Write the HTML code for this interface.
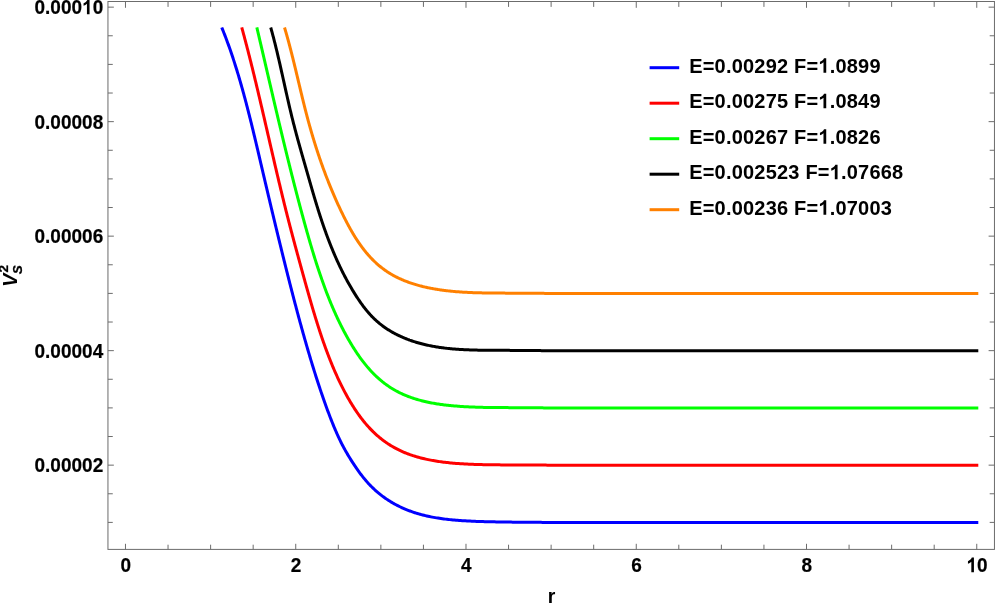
<!DOCTYPE html>
<html><head><meta charset="utf-8"><title>plot</title>
<style>
html,body{margin:0;padding:0;background:#fff;}
svg{display:block;font-family:"Liberation Sans",sans-serif;font-weight:bold;}
</style></head><body>
<svg width="996" height="604" viewBox="0 0 996 604">
<rect width="996" height="604" fill="#fff"/>
<g fill="none" stroke-width="3" stroke-linejoin="round">
<path d="M221.74 27.46 L222.23 28.65 L222.71 29.84 L223.19 31.03 L223.67 32.23 L224.14 33.44 L224.61 34.64 L225.08 35.85 L225.54 37.06 L226.00 38.28 L226.46 39.49 L226.91 40.71 L227.36 41.94 L227.81 43.16 L228.26 44.39 L228.70 45.62 L229.14 46.86 L229.58 48.10 L230.02 49.34 L230.45 50.58 L230.88 51.82 L231.30 53.07 L231.73 54.32 L232.15 55.58 L232.57 56.83 L232.99 58.09 L233.40 59.35 L233.82 60.61 L234.22 61.88 L234.63 63.15 L235.04 64.42 L235.44 65.69 L235.84 66.96 L236.24 68.24 L236.64 69.52 L237.03 70.80 L237.42 72.08 L237.81 73.37 L238.20 74.66 L238.58 75.95 L238.97 77.24 L239.35 78.53 L239.73 79.83 L240.11 81.12 L240.48 82.42 L240.85 83.72 L241.23 85.03 L241.60 86.33 L241.97 87.64 L242.33 88.95 L242.70 90.26 L243.06 91.57 L243.42 92.88 L243.78 94.20 L244.14 95.52 L244.50 96.84 L244.85 98.16 L245.20 99.48 L245.56 100.80 L245.91 102.12 L246.26 103.45 L246.60 104.78 L246.95 106.11 L247.30 107.44 L247.64 108.77 L247.98 110.10 L248.32 111.43 L248.66 112.77 L249.00 114.10 L249.34 115.44 L249.68 116.78 L250.01 118.12 L250.35 119.46 L250.68 120.80 L251.01 122.14 L251.35 123.49 L251.68 124.83 L252.01 126.18 L252.34 127.52 L252.66 128.87 L252.99 130.22 L253.32 131.57 L253.64 132.92 L253.97 134.27 L254.29 135.62 L254.62 136.97 L254.94 138.32 L255.26 139.67 L255.58 141.02 L255.91 142.38 L256.23 143.73 L256.55 145.09 L256.87 146.44 L257.19 147.80 L257.51 149.15 L257.83 150.51 L258.14 151.87 L258.46 153.22 L258.78 154.58 L259.10 155.94 L259.42 157.30 L259.73 158.65 L260.05 160.01 L260.37 161.37 L260.68 162.73 L261.00 164.08 L261.32 165.44 L261.64 166.80 L261.95 168.16 L262.27 169.52 L262.59 170.87 L262.90 172.23 L263.22 173.59 L263.54 174.95 L263.86 176.30 L264.18 177.66 L264.49 179.02 L264.81 180.38 L265.13 181.73 L265.45 183.09 L265.77 184.44 L266.09 185.80 L266.41 187.16 L266.73 188.51 L267.04 189.87 L267.36 191.22 L267.68 192.58 L268.00 193.93 L268.32 195.29 L268.64 196.64 L268.96 198.00 L269.29 199.35 L269.61 200.71 L269.93 202.06 L270.25 203.42 L270.57 204.77 L270.89 206.12 L271.21 207.48 L271.54 208.83 L271.86 210.18 L272.18 211.53 L272.50 212.89 L272.83 214.24 L273.15 215.59 L273.47 216.94 L273.80 218.29 L274.12 219.64 L274.45 221.00 L274.77 222.35 L275.09 223.70 L275.42 225.05 L275.74 226.40 L276.07 227.75 L276.40 229.09 L276.72 230.44 L277.05 231.79 L277.38 233.14 L277.70 234.49 L278.03 235.84 L278.36 237.18 L278.69 238.53 L279.01 239.88 L279.34 241.23 L279.67 242.57 L280.00 243.92 L280.33 245.26 L280.66 246.61 L280.99 247.95 L281.32 249.30 L281.65 250.64 L281.98 251.99 L282.31 253.33 L282.64 254.67 L282.98 256.02 L283.31 257.36 L283.64 258.70 L283.97 260.05 L284.31 261.39 L284.64 262.73 L284.97 264.07 L285.31 265.41 L285.64 266.75 L285.98 268.09 L286.32 269.43 L286.65 270.77 L286.99 272.11 L287.32 273.45 L287.66 274.78 L288.00 276.12 L288.34 277.46 L288.68 278.79 L289.01 280.13 L289.35 281.47 L289.69 282.80 L290.03 284.14 L290.37 285.47 L290.72 286.80 L291.06 288.14 L291.40 289.47 L291.74 290.80 L292.09 292.13 L292.43 293.47 L292.78 294.80 L293.12 296.13 L293.47 297.46 L293.81 298.78 L294.16 300.11 L294.51 301.44 L294.86 302.77 L295.21 304.09 L295.56 305.42 L295.91 306.74 L296.26 308.07 L296.61 309.39 L296.96 310.71 L297.31 312.03 L297.67 313.36 L298.02 314.68 L298.38 316.00 L298.73 317.31 L299.09 318.63 L299.45 319.95 L299.81 321.27 L300.17 322.58 L300.53 323.90 L300.89 325.21 L301.25 326.52 L301.61 327.84 L301.98 329.15 L302.34 330.46 L302.71 331.77 L303.07 333.08 L303.44 334.39 L303.81 335.69 L304.18 337.00 L304.55 338.30 L304.92 339.61 L305.29 340.91 L305.66 342.21 L306.04 343.51 L306.41 344.81 L306.79 346.11 L307.16 347.41 L307.54 348.71 L307.92 350.01 L308.30 351.30 L308.68 352.59 L309.06 353.89 L309.45 355.18 L309.83 356.47 L310.22 357.76 L310.60 359.05 L310.99 360.33 L311.38 361.62 L311.77 362.91 L312.16 364.19 L312.56 365.47 L312.95 366.75 L313.34 368.03 L313.74 369.31 L314.14 370.59 L314.54 371.87 L314.94 373.14 L315.34 374.42 L315.74 375.69 L316.14 376.96 L316.55 378.23 L316.96 379.50 L317.36 380.77 L317.77 382.03 L318.18 383.29 L318.60 384.56 L319.01 385.82 L319.43 387.08 L319.85 388.33 L320.26 389.59 L320.69 390.84 L321.11 392.10 L321.53 393.35 L321.96 394.60 L322.39 395.84 L322.82 397.09 L323.25 398.33 L323.68 399.57 L324.12 400.81 L324.56 402.05 L325.00 403.28 L325.44 404.52 L325.88 405.75 L326.33 406.98 L326.78 408.20 L327.23 409.43 L327.68 410.65 L328.14 411.87 L328.60 413.09 L329.06 414.30 L329.52 415.51 L329.98 416.72 L330.45 417.93 L330.92 419.14 L331.39 420.34 L331.87 421.54 L332.34 422.74 L332.83 423.93 L333.31 425.12 L333.80 426.31 L334.29 427.49 L334.79 428.67 L335.28 429.85 L335.79 431.02 L336.30 432.19 L336.81 433.35 L337.33 434.51 L337.85 435.66 L338.38 436.81 L338.91 437.95 L339.45 439.09 L339.99 440.22 L340.54 441.35 L341.09 442.47 L341.65 443.58 L342.22 444.69 L342.80 445.79 L343.38 446.88 L343.96 447.97 L344.55 449.06 L345.15 450.13 L345.76 451.20 L346.37 452.27 L346.98 453.33 L347.60 454.38 L348.23 455.43 L348.86 456.47 L349.50 457.51 L350.13 458.55 L350.78 459.58 L351.42 460.61 L352.08 461.64 L352.73 462.66 L353.39 463.67 L354.05 464.68 L354.72 465.69 L355.39 466.69 L356.07 467.69 L356.76 468.68 L357.45 469.67 L358.14 470.65 L358.84 471.62 L359.55 472.59 L360.26 473.55 L360.98 474.51 L361.71 475.45 L362.44 476.39 L363.19 477.33 L363.94 478.25 L364.69 479.17 L365.46 480.08 L366.23 480.98 L367.01 481.88 L367.80 482.76 L368.60 483.64 L369.41 484.50 L370.23 485.36 L371.06 486.21 L371.90 487.04 L372.74 487.87 L373.60 488.69 L374.46 489.50 L375.34 490.30 L376.23 491.09 L377.12 491.87 L378.03 492.64 L378.94 493.40 L379.87 494.15 L380.80 494.89 L381.75 495.62 L382.70 496.34 L383.67 497.05 L384.64 497.75 L385.63 498.44 L386.62 499.12 L387.63 499.79 L388.64 500.45 L389.67 501.10 L390.70 501.74 L391.75 502.37 L392.81 502.98 L393.87 503.59 L394.95 504.19 L396.04 504.78 L397.14 505.35 L398.25 505.92 L399.37 506.48 L400.50 507.02 L401.64 507.56 L402.79 508.08 L403.95 508.59 L405.12 509.10 L406.31 509.59 L407.50 510.07 L408.70 510.54 L409.92 511.00 L411.15 511.45 L412.38 511.88 L413.63 512.31 L414.89 512.73 L416.16 513.13 L417.44 513.52 L418.74 513.91 L420.04 514.28 L421.36 514.64 L422.68 514.99 L424.02 515.32 L425.37 515.65 L426.73 515.97 L428.10 516.27 L429.48 516.56 L430.87 516.85 L432.28 517.12 L433.69 517.38 L435.12 517.63 L436.55 517.87 L437.99 518.10 L439.45 518.32 L440.91 518.53 L442.38 518.74 L443.86 518.93 L445.35 519.12 L446.85 519.30 L448.36 519.47 L449.87 519.63 L451.39 519.78 L452.92 519.93 L454.46 520.07 L456.00 520.20 L457.55 520.32 L459.10 520.44 L460.67 520.55 L462.24 520.66 L463.81 520.76 L465.39 520.86 L466.98 520.95 L468.57 521.03 L470.16 521.11 L471.76 521.18 L473.37 521.25 L474.98 521.32 L476.59 521.38 L478.21 521.44 L479.83 521.49 L481.45 521.54 L483.08 521.59 L484.71 521.64 L486.35 521.68 L487.98 521.72 L489.62 521.75 L491.26 521.79 L492.90 521.82 L494.54 521.85 L496.19 521.88 L497.84 521.91 L499.48 521.94 L501.13 521.97 L502.78 522.00 L504.43 522.02 L506.08 522.05 L507.73 522.07 L509.38 522.10 L511.03 522.12 L512.69 522.14 L514.34 522.16 L516.00 522.18 L517.65 522.20 L519.31 522.22 L520.97 522.24 L522.62 522.25 L524.28 522.27 L525.94 522.28 L527.61 522.30 L529.27 522.31 L530.93 522.32 L532.60 522.33 L534.26 522.34 L535.93 522.35 L537.59 522.36 L539.26 522.36 L540.93 522.37 L542.60 522.38 L544.27 522.38 L545.94 522.38 L547.62 522.38 L549.29 522.39 L550.97 522.39 L552.64 522.39 L554.32 522.39 L556.00 522.39 L557.68 522.39 L559.36 522.39 L561.04 522.39 L562.72 522.39 L978.3 522.40" stroke="#0000ff"/>
<path d="M241.75 27.45 L242.08 28.62 L242.40 29.80 L242.72 30.98 L243.04 32.16 L243.36 33.34 L243.68 34.53 L244.00 35.71 L244.32 36.89 L244.63 38.08 L244.95 39.27 L245.26 40.45 L245.58 41.64 L245.89 42.83 L246.20 44.02 L246.51 45.21 L246.82 46.40 L247.13 47.59 L247.44 48.78 L247.75 49.98 L248.06 51.17 L248.36 52.37 L248.67 53.56 L248.98 54.76 L249.28 55.96 L249.58 57.15 L249.89 58.35 L250.19 59.55 L250.49 60.75 L250.79 61.95 L251.09 63.15 L251.39 64.35 L251.69 65.56 L251.99 66.76 L252.29 67.96 L252.58 69.17 L252.88 70.37 L253.18 71.58 L253.47 72.78 L253.77 73.99 L254.06 75.20 L254.35 76.41 L254.65 77.61 L254.94 78.82 L255.23 80.03 L255.52 81.24 L255.82 82.45 L256.11 83.66 L256.40 84.87 L256.69 86.08 L256.98 87.30 L257.27 88.51 L257.55 89.72 L257.84 90.94 L258.13 92.15 L258.42 93.36 L258.70 94.58 L258.99 95.79 L259.28 97.01 L259.56 98.22 L259.85 99.44 L260.13 100.65 L260.42 101.87 L260.70 103.09 L260.99 104.30 L261.27 105.52 L261.56 106.74 L261.84 107.96 L262.12 109.18 L262.41 110.39 L262.69 111.61 L262.97 112.83 L263.26 114.05 L263.54 115.27 L263.82 116.49 L264.10 117.71 L264.38 118.93 L264.67 120.15 L264.95 121.37 L265.23 122.59 L265.51 123.81 L265.79 125.03 L266.07 126.25 L266.35 127.47 L266.63 128.69 L266.92 129.91 L267.20 131.13 L267.48 132.35 L267.76 133.57 L268.04 134.79 L268.32 136.01 L268.60 137.23 L268.88 138.45 L269.16 139.67 L269.44 140.89 L269.72 142.11 L270.01 143.33 L270.29 144.56 L270.57 145.78 L270.85 147.00 L271.13 148.22 L271.41 149.44 L271.69 150.66 L271.97 151.88 L272.26 153.10 L272.54 154.31 L272.82 155.53 L273.10 156.75 L273.39 157.97 L273.67 159.19 L273.95 160.41 L274.23 161.63 L274.52 162.85 L274.80 164.06 L275.09 165.28 L275.37 166.50 L275.65 167.72 L275.94 168.93 L276.22 170.15 L276.51 171.37 L276.79 172.58 L277.08 173.80 L277.37 175.01 L277.65 176.23 L277.94 177.44 L278.23 178.65 L278.52 179.87 L278.80 181.08 L279.09 182.29 L279.38 183.51 L279.67 184.72 L279.96 185.93 L280.25 187.14 L280.54 188.35 L280.83 189.56 L281.12 190.77 L281.42 191.98 L281.71 193.19 L282.00 194.40 L282.30 195.61 L282.59 196.81 L282.88 198.02 L283.18 199.23 L283.48 200.43 L283.77 201.64 L284.07 202.84 L284.37 204.05 L284.66 205.25 L284.96 206.45 L285.26 207.65 L285.56 208.86 L285.86 210.06 L286.17 211.26 L286.47 212.46 L286.77 213.65 L287.07 214.85 L287.38 216.05 L287.68 217.25 L287.99 218.44 L288.30 219.64 L288.60 220.83 L288.91 222.03 L289.22 223.22 L289.53 224.41 L289.84 225.60 L290.15 226.79 L290.46 227.98 L290.77 229.17 L291.08 230.36 L291.40 231.55 L291.71 232.74 L292.03 233.92 L292.34 235.11 L292.66 236.30 L292.97 237.48 L293.29 238.67 L293.61 239.85 L293.92 241.04 L294.24 242.22 L294.56 243.40 L294.88 244.59 L295.20 245.77 L295.52 246.95 L295.84 248.13 L296.16 249.31 L296.48 250.49 L296.80 251.67 L297.12 252.85 L297.44 254.03 L297.76 255.21 L298.09 256.39 L298.41 257.57 L298.73 258.75 L299.05 259.93 L299.38 261.11 L299.70 262.28 L300.02 263.46 L300.35 264.64 L300.67 265.82 L301.00 267.00 L301.32 268.17 L301.64 269.35 L301.97 270.53 L302.29 271.70 L302.62 272.88 L302.94 274.06 L303.27 275.24 L303.59 276.41 L303.92 277.59 L304.24 278.76 L304.57 279.94 L304.89 281.12 L305.22 282.29 L305.54 283.47 L305.87 284.64 L306.20 285.81 L306.53 286.99 L306.86 288.16 L307.19 289.33 L307.52 290.50 L307.85 291.68 L308.18 292.85 L308.51 294.02 L308.84 295.19 L309.17 296.35 L309.51 297.52 L309.84 298.69 L310.18 299.85 L310.51 301.02 L310.85 302.18 L311.19 303.35 L311.53 304.51 L311.87 305.67 L312.21 306.83 L312.55 307.99 L312.89 309.15 L313.24 310.31 L313.58 311.46 L313.93 312.62 L314.28 313.77 L314.63 314.92 L314.98 316.08 L315.33 317.23 L315.68 318.37 L316.03 319.52 L316.39 320.67 L316.75 321.81 L317.11 322.95 L317.47 324.10 L317.83 325.24 L318.19 326.37 L318.55 327.51 L318.92 328.65 L319.29 329.78 L319.66 330.91 L320.03 332.04 L320.40 333.17 L320.78 334.30 L321.15 335.42 L321.53 336.55 L321.91 337.67 L322.29 338.79 L322.68 339.90 L323.06 341.02 L323.45 342.13 L323.84 343.24 L324.24 344.35 L324.63 345.46 L325.03 346.57 L325.42 347.67 L325.83 348.77 L326.23 349.87 L326.63 350.96 L327.04 352.06 L327.45 353.15 L327.86 354.24 L328.28 355.32 L328.70 356.41 L329.11 357.49 L329.54 358.57 L329.96 359.65 L330.39 360.72 L330.82 361.79 L331.25 362.86 L331.69 363.93 L332.12 364.99 L332.56 366.05 L333.01 367.11 L333.45 368.17 L333.90 369.22 L334.35 370.27 L334.81 371.32 L335.27 372.36 L335.73 373.40 L336.19 374.44 L336.66 375.48 L337.12 376.51 L337.60 377.54 L338.07 378.56 L338.55 379.59 L339.03 380.61 L339.52 381.62 L340.01 382.63 L340.50 383.64 L340.99 384.65 L341.49 385.65 L341.99 386.65 L342.50 387.65 L343.01 388.64 L343.52 389.63 L344.03 390.62 L344.55 391.60 L345.07 392.58 L345.60 393.56 L346.13 394.53 L346.66 395.50 L347.20 396.46 L347.74 397.42 L348.29 398.38 L348.83 399.33 L349.39 400.28 L349.94 401.23 L350.50 402.17 L351.07 403.10 L351.64 404.04 L352.21 404.97 L352.78 405.89 L353.37 406.81 L353.95 407.73 L354.54 408.64 L355.14 409.55 L355.74 410.45 L356.34 411.34 L356.95 412.24 L357.56 413.12 L358.18 414.00 L358.81 414.88 L359.44 415.75 L360.08 416.62 L360.72 417.48 L361.36 418.33 L362.02 419.18 L362.68 420.02 L363.34 420.86 L364.01 421.69 L364.69 422.52 L365.37 423.34 L366.06 424.15 L366.75 424.95 L367.46 425.75 L368.16 426.55 L368.88 427.33 L369.60 428.11 L370.33 428.89 L371.07 429.65 L371.81 430.41 L372.56 431.16 L373.31 431.91 L374.08 432.64 L374.85 433.37 L375.63 434.10 L376.42 434.81 L377.21 435.52 L378.01 436.22 L378.82 436.91 L379.64 437.59 L380.47 438.27 L381.30 438.93 L382.14 439.59 L382.99 440.24 L383.85 440.89 L384.72 441.52 L385.60 442.15 L386.48 442.76 L387.38 443.37 L388.28 443.97 L389.19 444.56 L390.11 445.14 L391.04 445.71 L391.98 446.27 L392.93 446.83 L393.89 447.37 L394.85 447.90 L395.83 448.43 L396.82 448.94 L397.81 449.45 L398.81 449.95 L399.83 450.44 L400.85 450.92 L401.88 451.39 L402.92 451.85 L403.97 452.30 L405.03 452.74 L406.10 453.17 L407.18 453.59 L408.27 454.01 L409.37 454.41 L410.48 454.80 L411.59 455.19 L412.72 455.56 L413.85 455.93 L415.00 456.29 L416.15 456.64 L417.31 456.97 L418.49 457.30 L419.67 457.63 L420.86 457.94 L422.05 458.24 L423.26 458.54 L424.48 458.82 L425.70 459.10 L426.93 459.37 L428.17 459.63 L429.42 459.88 L430.68 460.13 L431.94 460.36 L433.21 460.59 L434.50 460.81 L435.78 461.03 L437.08 461.23 L438.38 461.43 L439.70 461.62 L441.01 461.80 L442.34 461.98 L443.67 462.15 L445.01 462.31 L446.36 462.46 L447.71 462.61 L449.07 462.76 L450.43 462.89 L451.80 463.02 L453.18 463.15 L454.56 463.27 L455.95 463.38 L457.35 463.49 L458.75 463.59 L460.15 463.69 L461.56 463.78 L462.97 463.87 L464.39 463.95 L465.82 464.03 L467.25 464.10 L468.68 464.17 L470.11 464.23 L471.56 464.29 L473.00 464.35 L474.45 464.40 L475.90 464.45 L477.36 464.50 L478.81 464.54 L480.28 464.58 L481.74 464.62 L483.21 464.65 L484.68 464.68 L486.15 464.71 L487.63 464.74 L489.11 464.76 L490.59 464.78 L492.07 464.80 L493.55 464.82 L495.04 464.83 L496.53 464.85 L498.01 464.86 L499.50 464.87 L501.00 464.88 L502.49 464.89 L503.98 464.90 L505.48 464.91 L506.97 464.91 L508.47 464.92 L509.96 464.92 L511.46 464.93 L512.96 464.93 L514.45 464.94 L515.95 464.94 L517.45 464.94 L518.95 464.95 L520.44 464.95 L521.94 464.96 L523.44 464.96 L524.94 464.96 L526.43 464.97 L527.93 464.97 L529.42 464.98 L530.92 464.99 L532.41 465.00 L533.90 465.01 L535.40 465.02 L536.89 465.03 L538.38 465.04 L539.86 465.05 L541.35 465.07 L542.83 465.08 L544.32 465.10 L545.80 465.12 L547.28 465.15 L548.75 465.15 L550.23 465.15 L551.70 465.15 L553.17 465.15 L978.3 465.15" stroke="#ff0000"/>
<path d="M256.82 27.38 L257.08 28.47 L257.33 29.56 L257.59 30.66 L257.85 31.75 L258.10 32.84 L258.36 33.93 L258.61 35.03 L258.87 36.12 L259.12 37.21 L259.38 38.31 L259.63 39.40 L259.89 40.50 L260.14 41.59 L260.40 42.68 L260.65 43.78 L260.91 44.87 L261.16 45.96 L261.42 47.06 L261.67 48.15 L261.93 49.25 L262.18 50.34 L262.43 51.44 L262.69 52.53 L262.94 53.62 L263.20 54.72 L263.45 55.81 L263.71 56.91 L263.96 58.00 L264.21 59.10 L264.47 60.19 L264.72 61.29 L264.98 62.38 L265.23 63.47 L265.48 64.57 L265.74 65.66 L265.99 66.76 L266.25 67.85 L266.50 68.95 L266.76 70.04 L267.01 71.14 L267.26 72.23 L267.52 73.32 L267.77 74.42 L268.03 75.51 L268.28 76.61 L268.54 77.70 L268.79 78.80 L269.04 79.89 L269.30 80.98 L269.55 82.08 L269.81 83.17 L270.06 84.27 L270.32 85.36 L270.57 86.45 L270.83 87.55 L271.08 88.64 L271.34 89.74 L271.59 90.83 L271.85 91.92 L272.10 93.02 L272.36 94.11 L272.61 95.20 L272.87 96.30 L273.12 97.39 L273.38 98.48 L273.64 99.57 L273.89 100.67 L274.15 101.76 L274.40 102.85 L274.66 103.94 L274.92 105.04 L275.17 106.13 L275.43 107.22 L275.69 108.31 L275.94 109.40 L276.20 110.49 L276.46 111.59 L276.72 112.68 L276.97 113.77 L277.23 114.86 L277.49 115.95 L277.75 117.04 L278.01 118.13 L278.26 119.22 L278.52 120.31 L278.78 121.40 L279.04 122.49 L279.30 123.58 L279.56 124.67 L279.82 125.76 L280.08 126.85 L280.34 127.94 L280.60 129.02 L280.86 130.11 L281.12 131.20 L281.38 132.29 L281.64 133.38 L281.90 134.46 L282.16 135.55 L282.43 136.64 L282.69 137.73 L282.95 138.81 L283.21 139.90 L283.47 140.98 L283.74 142.07 L284.00 143.16 L284.26 144.24 L284.53 145.33 L284.79 146.41 L285.05 147.50 L285.32 148.58 L285.58 149.66 L285.85 150.75 L286.11 151.83 L286.38 152.91 L286.65 154.00 L286.91 155.08 L287.18 156.16 L287.44 157.24 L287.71 158.33 L287.98 159.41 L288.25 160.49 L288.51 161.57 L288.78 162.65 L289.05 163.73 L289.32 164.81 L289.59 165.89 L289.86 166.97 L290.13 168.05 L290.40 169.13 L290.67 170.20 L290.94 171.28 L291.21 172.36 L291.48 173.44 L291.75 174.51 L292.02 175.59 L292.30 176.67 L292.57 177.74 L292.84 178.82 L293.12 179.89 L293.39 180.97 L293.66 182.04 L293.94 183.12 L294.21 184.19 L294.49 185.26 L294.77 186.34 L295.04 187.41 L295.32 188.48 L295.60 189.55 L295.87 190.62 L296.15 191.69 L296.43 192.76 L296.71 193.83 L296.99 194.90 L297.27 195.97 L297.55 197.04 L297.83 198.11 L298.11 199.18 L298.39 200.25 L298.67 201.31 L298.95 202.38 L299.23 203.45 L299.52 204.51 L299.80 205.58 L300.08 206.64 L300.37 207.71 L300.65 208.77 L300.94 209.83 L301.22 210.90 L301.51 211.96 L301.80 213.02 L302.08 214.08 L302.37 215.14 L302.66 216.20 L302.95 217.26 L303.24 218.32 L303.53 219.38 L303.82 220.44 L304.11 221.50 L304.40 222.56 L304.69 223.62 L304.98 224.67 L305.27 225.73 L305.57 226.78 L305.86 227.84 L306.16 228.89 L306.45 229.95 L306.75 231.00 L307.04 232.05 L307.34 233.10 L307.64 234.15 L307.94 235.20 L308.24 236.25 L308.54 237.30 L308.84 238.35 L309.14 239.39 L309.44 240.44 L309.75 241.48 L310.05 242.53 L310.36 243.57 L310.66 244.61 L310.97 245.65 L311.28 246.69 L311.59 247.73 L311.90 248.77 L312.21 249.81 L312.52 250.84 L312.84 251.88 L313.15 252.91 L313.47 253.95 L313.78 254.98 L314.10 256.01 L314.42 257.04 L314.74 258.07 L315.06 259.09 L315.39 260.12 L315.71 261.14 L316.04 262.17 L316.36 263.19 L316.69 264.21 L317.02 265.23 L317.35 266.25 L317.68 267.27 L318.01 268.28 L318.35 269.30 L318.68 270.31 L319.02 271.32 L319.36 272.33 L319.70 273.34 L320.04 274.34 L320.39 275.35 L320.73 276.35 L321.08 277.36 L321.43 278.36 L321.77 279.36 L322.13 280.35 L322.48 281.35 L322.83 282.34 L323.19 283.34 L323.55 284.33 L323.91 285.32 L324.27 286.30 L324.63 287.29 L324.99 288.27 L325.36 289.26 L325.73 290.24 L326.10 291.22 L326.47 292.19 L326.84 293.17 L327.22 294.14 L327.60 295.11 L327.97 296.08 L328.36 297.05 L328.74 298.02 L329.12 298.98 L329.51 299.94 L329.90 300.90 L330.29 301.86 L330.68 302.81 L331.08 303.77 L331.48 304.72 L331.88 305.67 L332.28 306.62 L332.68 307.56 L333.09 308.50 L333.49 309.44 L333.90 310.38 L334.32 311.32 L334.73 312.25 L335.15 313.19 L335.57 314.12 L335.99 315.04 L336.41 315.97 L336.84 316.89 L337.26 317.81 L337.70 318.73 L338.13 319.65 L338.56 320.56 L339.00 321.47 L339.44 322.38 L339.88 323.28 L340.33 324.19 L340.78 325.09 L341.23 325.99 L341.68 326.88 L342.13 327.78 L342.59 328.67 L343.05 329.56 L343.52 330.44 L343.98 331.32 L344.45 332.20 L344.92 333.08 L345.39 333.96 L345.87 334.83 L346.35 335.70 L346.83 336.57 L347.32 337.43 L347.80 338.29 L348.29 339.15 L348.79 340.01 L349.28 340.86 L349.78 341.71 L350.28 342.56 L350.79 343.40 L351.29 344.24 L351.80 345.08 L352.32 345.92 L352.83 346.75 L353.35 347.58 L353.87 348.40 L354.40 349.23 L354.93 350.05 L355.46 350.87 L355.99 351.68 L356.53 352.49 L357.07 353.30 L357.62 354.10 L358.17 354.90 L358.72 355.69 L359.28 356.49 L359.84 357.27 L360.40 358.06 L360.97 358.84 L361.55 359.61 L362.12 360.38 L362.70 361.15 L363.29 361.92 L363.88 362.67 L364.47 363.43 L365.07 364.18 L365.68 364.92 L366.29 365.66 L366.90 366.40 L367.52 367.13 L368.14 367.85 L368.77 368.57 L369.40 369.29 L370.04 370.00 L370.69 370.70 L371.34 371.40 L371.99 372.10 L372.65 372.78 L373.32 373.47 L373.99 374.14 L374.66 374.82 L375.35 375.48 L376.04 376.14 L376.73 376.79 L377.43 377.44 L378.14 378.08 L378.85 378.72 L379.57 379.35 L380.30 379.97 L381.03 380.59 L381.77 381.20 L382.52 381.80 L383.27 382.40 L384.03 382.99 L384.79 383.57 L385.57 384.14 L386.35 384.71 L387.13 385.28 L387.93 385.83 L388.73 386.38 L389.54 386.92 L390.35 387.45 L391.17 387.98 L392.01 388.49 L392.84 389.00 L393.69 389.51 L394.54 390.00 L395.41 390.49 L396.27 390.97 L397.15 391.44 L398.04 391.90 L398.93 392.36 L399.83 392.80 L400.74 393.24 L401.66 393.67 L402.59 394.10 L403.52 394.51 L404.46 394.92 L405.41 395.32 L406.36 395.71 L407.33 396.10 L408.30 396.48 L409.28 396.84 L410.27 397.21 L411.26 397.56 L412.26 397.91 L413.27 398.25 L414.29 398.58 L415.31 398.90 L416.34 399.22 L417.38 399.53 L418.43 399.83 L419.48 400.13 L420.54 400.42 L421.61 400.70 L422.68 400.97 L423.77 401.24 L424.86 401.50 L425.95 401.75 L427.05 402.00 L428.16 402.24 L429.28 402.47 L430.40 402.69 L431.53 402.91 L432.67 403.12 L433.81 403.33 L434.96 403.53 L436.12 403.72 L437.28 403.91 L438.45 404.09 L439.63 404.26 L440.81 404.43 L441.99 404.59 L443.18 404.75 L444.38 404.90 L445.59 405.04 L446.79 405.18 L448.01 405.32 L449.23 405.45 L450.45 405.57 L451.68 405.69 L452.91 405.81 L454.15 405.92 L455.40 406.02 L456.64 406.12 L457.90 406.22 L459.15 406.31 L460.41 406.40 L461.68 406.48 L462.95 406.56 L464.22 406.64 L465.50 406.71 L466.78 406.78 L468.06 406.84 L469.35 406.90 L470.64 406.96 L471.93 407.02 L473.23 407.07 L474.53 407.12 L475.84 407.16 L477.14 407.20 L478.45 407.24 L479.76 407.28 L481.08 407.31 L482.39 407.35 L483.71 407.38 L485.03 407.40 L486.36 407.43 L487.68 407.45 L489.01 407.47 L490.34 407.49 L491.67 407.51 L493.00 407.53 L494.34 407.54 L495.67 407.55 L497.01 407.56 L498.35 407.58 L499.69 407.58 L501.03 407.59 L502.37 407.60 L503.71 407.61 L505.05 407.61 L506.40 407.62 L507.74 407.62 L509.08 407.63 L510.43 407.63 L511.77 407.64 L513.12 407.64 L514.46 407.64 L515.81 407.65 L517.15 407.65 L518.50 407.65 L519.84 407.66 L521.19 407.66 L522.53 407.67 L523.87 407.67 L525.22 407.68 L526.56 407.69 L527.90 407.69 L529.24 407.70 L530.58 407.71 L531.92 407.72 L533.25 407.74 L534.59 407.75 L535.92 407.76 L537.25 407.78 L538.58 407.80 L539.91 407.82 L541.24 407.84 L542.56 407.87 L543.89 407.89 L545.21 407.90 L546.53 407.90 L547.84 407.90 L549.16 407.90 L978.3 407.90" stroke="#00ff00"/>
<path d="M270.72 27.48 L270.98 28.43 L271.25 29.37 L271.51 30.31 L271.77 31.26 L272.03 32.21 L272.28 33.16 L272.54 34.11 L272.80 35.06 L273.05 36.02 L273.30 36.97 L273.55 37.93 L273.80 38.89 L274.05 39.85 L274.29 40.81 L274.54 41.77 L274.78 42.73 L275.03 43.70 L275.27 44.66 L275.51 45.63 L275.75 46.60 L275.98 47.57 L276.22 48.54 L276.46 49.51 L276.69 50.48 L276.93 51.45 L277.16 52.43 L277.39 53.40 L277.62 54.38 L277.85 55.36 L278.08 56.33 L278.31 57.31 L278.54 58.29 L278.77 59.27 L279.00 60.25 L279.22 61.23 L279.45 62.21 L279.67 63.20 L279.90 64.18 L280.12 65.16 L280.34 66.15 L280.57 67.13 L280.79 68.12 L281.01 69.10 L281.23 70.09 L281.45 71.07 L281.68 72.06 L281.90 73.05 L282.12 74.03 L282.34 75.02 L282.56 76.01 L282.78 76.99 L283.00 77.98 L283.22 78.97 L283.43 79.96 L283.65 80.95 L283.87 81.93 L284.09 82.92 L284.31 83.91 L284.53 84.90 L284.75 85.89 L284.97 86.87 L285.19 87.86 L285.41 88.85 L285.63 89.84 L285.85 90.82 L286.07 91.81 L286.29 92.80 L286.51 93.78 L286.73 94.77 L286.96 95.75 L287.18 96.74 L287.40 97.72 L287.62 98.71 L287.85 99.69 L288.07 100.67 L288.30 101.66 L288.52 102.64 L288.75 103.62 L288.98 104.60 L289.20 105.58 L289.43 106.56 L289.66 107.54 L289.89 108.51 L290.12 109.49 L290.35 110.47 L290.58 111.44 L290.82 112.42 L291.05 113.39 L291.29 114.36 L291.52 115.33 L291.76 116.30 L292.00 117.27 L292.24 118.24 L292.48 119.21 L292.72 120.17 L292.96 121.14 L293.20 122.10 L293.45 123.06 L293.69 124.03 L293.94 124.99 L294.19 125.95 L294.44 126.90 L294.69 127.86 L294.94 128.82 L295.19 129.77 L295.44 130.73 L295.70 131.68 L295.95 132.63 L296.21 133.59 L296.46 134.54 L296.72 135.49 L296.98 136.44 L297.23 137.39 L297.49 138.34 L297.75 139.28 L298.01 140.23 L298.27 141.18 L298.54 142.12 L298.80 143.07 L299.06 144.01 L299.32 144.96 L299.59 145.90 L299.85 146.84 L300.12 147.78 L300.38 148.73 L300.65 149.67 L300.91 150.61 L301.18 151.55 L301.45 152.49 L301.71 153.43 L301.98 154.37 L302.25 155.31 L302.52 156.25 L302.79 157.19 L303.05 158.13 L303.32 159.07 L303.59 160.00 L303.86 160.94 L304.13 161.88 L304.40 162.82 L304.67 163.76 L304.94 164.70 L305.21 165.63 L305.48 166.57 L305.75 167.51 L306.01 168.45 L306.28 169.39 L306.55 170.32 L306.82 171.26 L307.09 172.20 L307.36 173.14 L307.63 174.08 L307.90 175.02 L308.16 175.96 L308.43 176.89 L308.70 177.83 L308.97 178.77 L309.24 179.71 L309.51 180.65 L309.78 181.59 L310.05 182.52 L310.32 183.46 L310.59 184.40 L310.86 185.33 L311.13 186.27 L311.40 187.21 L311.67 188.14 L311.94 189.08 L312.21 190.01 L312.49 190.95 L312.76 191.88 L313.03 192.82 L313.31 193.75 L313.58 194.68 L313.86 195.62 L314.13 196.55 L314.41 197.48 L314.69 198.41 L314.96 199.34 L315.24 200.27 L315.52 201.19 L315.80 202.12 L316.08 203.05 L316.37 203.97 L316.65 204.90 L316.93 205.82 L317.22 206.74 L317.50 207.67 L317.79 208.59 L318.07 209.51 L318.36 210.43 L318.65 211.34 L318.94 212.26 L319.23 213.18 L319.53 214.09 L319.82 215.01 L320.11 215.92 L320.41 216.83 L320.71 217.74 L321.01 218.65 L321.31 219.56 L321.61 220.46 L321.91 221.37 L322.21 222.27 L322.52 223.17 L322.83 224.07 L323.13 224.97 L323.44 225.87 L323.75 226.77 L324.07 227.66 L324.38 228.55 L324.70 229.45 L325.01 230.34 L325.33 231.23 L325.65 232.11 L325.97 233.00 L326.29 233.89 L326.62 234.77 L326.94 235.65 L327.27 236.53 L327.60 237.41 L327.93 238.29 L328.26 239.16 L328.59 240.04 L328.93 240.91 L329.26 241.78 L329.60 242.65 L329.94 243.52 L330.28 244.38 L330.63 245.25 L330.97 246.11 L331.32 246.97 L331.67 247.83 L332.02 248.69 L332.37 249.54 L332.72 250.40 L333.07 251.25 L333.43 252.10 L333.79 252.95 L334.15 253.80 L334.51 254.64 L334.88 255.48 L335.24 256.33 L335.61 257.17 L335.98 258.00 L336.35 258.84 L336.72 259.67 L337.10 260.51 L337.47 261.34 L337.85 262.17 L338.23 262.99 L338.61 263.82 L339.00 264.64 L339.39 265.46 L339.77 266.28 L340.16 267.10 L340.56 267.91 L340.95 268.73 L341.35 269.54 L341.74 270.35 L342.14 271.15 L342.55 271.96 L342.95 272.76 L343.36 273.56 L343.77 274.36 L344.18 275.16 L344.59 275.95 L345.00 276.75 L345.42 277.54 L345.84 278.32 L346.26 279.11 L346.68 279.89 L347.11 280.68 L347.54 281.46 L347.97 282.23 L348.40 283.01 L348.83 283.78 L349.27 284.55 L349.71 285.32 L350.15 286.09 L350.59 286.85 L351.04 287.61 L351.48 288.37 L351.94 289.13 L352.39 289.89 L352.84 290.64 L353.30 291.39 L353.76 292.14 L354.22 292.88 L354.68 293.63 L355.15 294.37 L355.62 295.10 L356.09 295.84 L356.56 296.57 L357.04 297.31 L357.52 298.03 L358.00 298.76 L358.48 299.48 L358.97 300.20 L359.46 300.92 L359.95 301.64 L360.45 302.35 L360.95 303.05 L361.45 303.76 L361.96 304.46 L362.47 305.16 L362.98 305.85 L363.50 306.54 L364.02 307.23 L364.55 307.91 L365.08 308.59 L365.61 309.26 L366.15 309.93 L366.69 310.59 L367.24 311.25 L367.79 311.91 L368.35 312.56 L368.91 313.20 L369.48 313.84 L370.05 314.48 L370.63 315.10 L371.21 315.73 L371.80 316.35 L372.40 316.96 L373.00 317.57 L373.60 318.17 L374.22 318.76 L374.83 319.35 L375.46 319.94 L376.09 320.51 L376.72 321.08 L377.37 321.65 L378.02 322.21 L378.67 322.76 L379.33 323.31 L380.00 323.85 L380.67 324.38 L381.35 324.91 L382.03 325.43 L382.72 325.95 L383.42 326.46 L384.12 326.97 L384.83 327.47 L385.54 327.96 L386.26 328.45 L386.99 328.93 L387.72 329.41 L388.46 329.88 L389.20 330.34 L389.95 330.80 L390.70 331.25 L391.46 331.70 L392.23 332.14 L393.00 332.57 L393.78 333.00 L394.56 333.43 L395.35 333.84 L396.15 334.26 L396.95 334.66 L397.75 335.06 L398.57 335.46 L399.38 335.85 L400.21 336.23 L401.04 336.61 L401.87 336.98 L402.71 337.35 L403.56 337.71 L404.41 338.07 L405.27 338.42 L406.13 338.76 L407.00 339.10 L407.87 339.44 L408.75 339.76 L409.63 340.09 L410.52 340.40 L411.42 340.71 L412.32 341.02 L413.23 341.32 L414.14 341.62 L415.06 341.91 L415.98 342.19 L416.91 342.47 L417.84 342.74 L418.78 343.01 L419.73 343.27 L420.68 343.53 L421.63 343.78 L422.59 344.03 L423.56 344.27 L424.53 344.51 L425.51 344.74 L426.49 344.96 L427.48 345.18 L428.47 345.40 L429.47 345.60 L430.47 345.81 L431.48 346.01 L432.49 346.20 L433.51 346.39 L434.54 346.57 L435.57 346.75 L436.60 346.92 L437.64 347.09 L438.68 347.25 L439.73 347.41 L440.79 347.56 L441.85 347.71 L442.91 347.85 L443.99 347.99 L445.06 348.12 L446.14 348.25 L447.23 348.37 L448.32 348.49 L449.41 348.60 L450.51 348.71 L451.62 348.81 L452.73 348.91 L453.84 349.00 L454.96 349.09 L456.08 349.17 L457.21 349.26 L458.34 349.33 L459.47 349.41 L460.61 349.48 L461.75 349.54 L462.90 349.60 L464.04 349.66 L465.20 349.72 L466.35 349.77 L467.51 349.82 L468.67 349.86 L469.83 349.91 L471.00 349.95 L472.17 349.99 L473.34 350.02 L474.52 350.05 L475.70 350.08 L476.88 350.11 L478.06 350.14 L479.24 350.16 L480.43 350.18 L481.61 350.20 L482.80 350.22 L484.00 350.23 L485.19 350.25 L486.38 350.26 L487.58 350.27 L488.77 350.28 L489.97 350.29 L491.17 350.30 L492.37 350.31 L493.57 350.32 L494.77 350.32 L495.98 350.33 L497.18 350.33 L498.38 350.34 L499.58 350.34 L500.79 350.34 L501.99 350.35 L503.19 350.35 L504.40 350.36 L505.60 350.36 L506.80 350.36 L508.01 350.37 L509.21 350.37 L510.41 350.38 L511.61 350.38 L512.82 350.39 L514.02 350.39 L515.22 350.40 L516.42 350.40 L517.62 350.41 L518.82 350.42 L520.03 350.42 L521.23 350.43 L522.43 350.44 L523.62 350.44 L524.82 350.45 L526.02 350.46 L527.22 350.47 L528.42 350.48 L529.61 350.49 L530.81 350.50 L532.01 350.51 L533.20 350.53 L534.40 350.54 L535.59 350.55 L536.78 350.57 L537.98 350.58 L539.17 350.60 L540.36 350.61 L541.55 350.63 L542.74 350.65 L543.93 350.65 L545.11 350.65 L546.30 350.65 L547.49 350.65 L548.67 350.65 L549.86 350.65 L978.3 350.65" stroke="#000000"/>
<path d="M284.51 27.49 L284.76 28.31 L285.00 29.13 L285.25 29.95 L285.49 30.78 L285.73 31.61 L285.97 32.43 L286.21 33.26 L286.45 34.09 L286.68 34.92 L286.92 35.76 L287.15 36.59 L287.39 37.42 L287.62 38.26 L287.85 39.10 L288.08 39.93 L288.31 40.77 L288.53 41.61 L288.76 42.45 L288.99 43.29 L289.21 44.14 L289.44 44.98 L289.66 45.82 L289.88 46.67 L290.10 47.52 L290.32 48.36 L290.54 49.21 L290.76 50.06 L290.98 50.91 L291.20 51.76 L291.42 52.61 L291.63 53.46 L291.85 54.31 L292.06 55.16 L292.28 56.02 L292.49 56.87 L292.71 57.72 L292.92 58.58 L293.13 59.43 L293.34 60.29 L293.55 61.15 L293.76 62.00 L293.97 62.86 L294.18 63.72 L294.39 64.58 L294.60 65.43 L294.81 66.29 L295.02 67.15 L295.23 68.01 L295.43 68.87 L295.64 69.73 L295.85 70.59 L296.06 71.45 L296.26 72.31 L296.47 73.18 L296.67 74.04 L296.88 74.90 L297.09 75.76 L297.29 76.62 L297.50 77.48 L297.70 78.35 L297.91 79.21 L298.11 80.07 L298.32 80.93 L298.52 81.80 L298.73 82.66 L298.93 83.52 L299.14 84.38 L299.35 85.24 L299.55 86.11 L299.76 86.97 L299.96 87.83 L300.17 88.69 L300.38 89.55 L300.58 90.41 L300.79 91.27 L300.99 92.13 L301.20 92.99 L301.41 93.85 L301.62 94.71 L301.83 95.57 L302.03 96.43 L302.24 97.29 L302.45 98.15 L302.66 99.01 L302.87 99.87 L303.08 100.72 L303.29 101.58 L303.50 102.43 L303.72 103.29 L303.93 104.15 L304.14 105.00 L304.35 105.85 L304.57 106.71 L304.78 107.56 L305.00 108.41 L305.22 109.26 L305.43 110.11 L305.65 110.96 L305.87 111.81 L306.09 112.66 L306.31 113.51 L306.53 114.36 L306.75 115.20 L306.97 116.05 L307.19 116.89 L307.42 117.74 L307.64 118.58 L307.87 119.42 L308.09 120.26 L308.32 121.10 L308.55 121.94 L308.78 122.78 L309.01 123.62 L309.24 124.45 L309.47 125.29 L309.71 126.12 L309.94 126.96 L310.18 127.79 L310.41 128.62 L310.65 129.45 L310.89 130.28 L311.12 131.11 L311.36 131.94 L311.61 132.76 L311.85 133.59 L312.09 134.41 L312.33 135.24 L312.58 136.06 L312.82 136.88 L313.07 137.70 L313.32 138.52 L313.57 139.34 L313.82 140.16 L314.07 140.98 L314.32 141.79 L314.57 142.61 L314.82 143.42 L315.08 144.24 L315.33 145.05 L315.59 145.86 L315.85 146.67 L316.10 147.48 L316.36 148.29 L316.62 149.09 L316.89 149.90 L317.15 150.71 L317.41 151.51 L317.67 152.31 L317.94 153.12 L318.21 153.92 L318.47 154.72 L318.74 155.52 L319.01 156.31 L319.28 157.11 L319.55 157.91 L319.82 158.70 L320.10 159.50 L320.37 160.29 L320.65 161.08 L320.92 161.88 L321.20 162.67 L321.48 163.45 L321.76 164.24 L322.04 165.03 L322.32 165.82 L322.60 166.60 L322.88 167.39 L323.17 168.17 L323.45 168.95 L323.74 169.73 L324.03 170.51 L324.32 171.29 L324.61 172.07 L324.90 172.85 L325.19 173.62 L325.48 174.40 L325.77 175.17 L326.07 175.94 L326.36 176.72 L326.66 177.49 L326.96 178.26 L327.26 179.02 L327.56 179.79 L327.86 180.56 L328.16 181.32 L328.46 182.09 L328.77 182.85 L329.07 183.61 L329.38 184.38 L329.69 185.14 L329.99 185.90 L330.30 186.65 L330.61 187.41 L330.93 188.17 L331.24 188.92 L331.55 189.68 L331.87 190.43 L332.18 191.18 L332.50 191.93 L332.82 192.68 L333.14 193.43 L333.46 194.18 L333.78 194.92 L334.10 195.67 L334.42 196.41 L334.75 197.16 L335.07 197.90 L335.40 198.64 L335.72 199.38 L336.05 200.12 L336.38 200.86 L336.71 201.59 L337.05 202.33 L337.38 203.06 L337.71 203.80 L338.05 204.53 L338.38 205.26 L338.72 205.99 L339.06 206.72 L339.40 207.45 L339.74 208.18 L340.08 208.90 L340.42 209.63 L340.77 210.35 L341.11 211.07 L341.46 211.79 L341.81 212.51 L342.15 213.23 L342.50 213.95 L342.85 214.67 L343.21 215.38 L343.56 216.10 L343.91 216.81 L344.27 217.52 L344.63 218.23 L344.98 218.94 L345.34 219.65 L345.71 220.36 L346.07 221.06 L346.43 221.76 L346.80 222.47 L347.17 223.17 L347.54 223.86 L347.91 224.56 L348.28 225.25 L348.65 225.95 L349.03 226.64 L349.41 227.33 L349.79 228.02 L350.17 228.70 L350.55 229.38 L350.94 230.07 L351.33 230.75 L351.72 231.42 L352.11 232.10 L352.51 232.77 L352.90 233.44 L353.30 234.11 L353.70 234.78 L354.11 235.44 L354.51 236.10 L354.92 236.76 L355.33 237.42 L355.75 238.07 L356.16 238.72 L356.58 239.37 L357.00 240.02 L357.42 240.66 L357.85 241.30 L358.28 241.94 L358.71 242.58 L359.15 243.21 L359.58 243.84 L360.02 244.47 L360.47 245.09 L360.91 245.71 L361.36 246.33 L361.82 246.95 L362.27 247.56 L362.73 248.17 L363.19 248.77 L363.66 249.37 L364.12 249.97 L364.60 250.57 L365.07 251.16 L365.55 251.75 L366.03 252.34 L366.51 252.92 L367.00 253.50 L367.49 254.08 L367.99 254.65 L368.49 255.22 L368.99 255.78 L369.50 256.34 L370.01 256.90 L370.52 257.45 L371.04 258.00 L371.56 258.55 L372.08 259.09 L372.61 259.63 L373.15 260.17 L373.68 260.70 L374.22 261.22 L374.77 261.75 L375.32 262.26 L375.87 262.78 L376.43 263.29 L376.99 263.80 L377.56 264.30 L378.13 264.79 L378.70 265.29 L379.28 265.78 L379.86 266.26 L380.45 266.74 L381.04 267.22 L381.64 267.69 L382.24 268.15 L382.85 268.61 L383.46 269.07 L384.07 269.52 L384.69 269.97 L385.32 270.41 L385.95 270.85 L386.58 271.29 L387.22 271.71 L387.86 272.14 L388.51 272.56 L389.16 272.97 L389.82 273.38 L390.49 273.78 L391.16 274.18 L391.83 274.57 L392.51 274.96 L393.19 275.35 L393.88 275.73 L394.58 276.10 L395.28 276.47 L395.98 276.83 L396.69 277.19 L397.40 277.54 L398.12 277.89 L398.84 278.24 L399.57 278.58 L400.30 278.91 L401.04 279.24 L401.78 279.57 L402.53 279.89 L403.28 280.21 L404.03 280.52 L404.79 280.83 L405.56 281.13 L406.33 281.43 L407.10 281.72 L407.88 282.01 L408.66 282.29 L409.45 282.57 L410.24 282.85 L411.04 283.12 L411.84 283.39 L412.64 283.65 L413.45 283.91 L414.27 284.16 L415.08 284.41 L415.91 284.66 L416.73 284.90 L417.56 285.14 L418.40 285.37 L419.23 285.60 L420.08 285.83 L420.92 286.05 L421.78 286.26 L422.63 286.48 L423.49 286.68 L424.35 286.89 L425.22 287.09 L426.09 287.29 L426.96 287.48 L427.84 287.67 L428.73 287.85 L429.61 288.03 L430.50 288.21 L431.40 288.38 L432.29 288.55 L433.20 288.72 L434.10 288.88 L435.01 289.04 L435.92 289.19 L436.84 289.35 L437.76 289.49 L438.68 289.64 L439.61 289.78 L440.54 289.91 L441.48 290.05 L442.41 290.18 L443.35 290.30 L444.30 290.43 L445.25 290.55 L446.20 290.66 L447.15 290.77 L448.11 290.88 L449.07 290.99 L450.04 291.09 L451.01 291.19 L451.98 291.29 L452.95 291.38 L453.93 291.47 L454.91 291.55 L455.90 291.64 L456.88 291.72 L457.88 291.79 L458.87 291.87 L459.87 291.94 L460.86 292.01 L461.87 292.07 L462.87 292.14 L463.88 292.20 L464.89 292.25 L465.90 292.31 L466.92 292.36 L467.93 292.41 L468.95 292.46 L469.98 292.50 L471.00 292.55 L472.03 292.59 L473.06 292.63 L474.09 292.66 L475.12 292.70 L476.16 292.73 L477.19 292.76 L478.23 292.79 L479.27 292.82 L480.31 292.84 L481.35 292.87 L482.40 292.89 L483.45 292.91 L484.49 292.93 L485.54 292.95 L486.59 292.97 L487.64 292.98 L488.70 293.00 L489.75 293.01 L490.81 293.02 L491.86 293.04 L492.92 293.05 L493.98 293.06 L495.03 293.07 L496.09 293.07 L497.15 293.08 L498.21 293.09 L499.27 293.10 L500.33 293.10 L501.40 293.11 L502.46 293.11 L503.52 293.12 L504.58 293.12 L505.64 293.13 L506.71 293.13 L507.77 293.14 L508.83 293.14 L509.90 293.15 L510.96 293.15 L512.02 293.16 L513.08 293.16 L514.15 293.17 L515.21 293.17 L516.27 293.17 L517.34 293.18 L518.40 293.18 L519.46 293.19 L520.53 293.19 L521.59 293.20 L522.65 293.20 L523.71 293.21 L524.77 293.21 L525.84 293.22 L526.90 293.23 L527.96 293.23 L529.02 293.24 L530.08 293.25 L531.14 293.25 L532.20 293.26 L533.26 293.27 L534.32 293.28 L535.38 293.28 L536.44 293.29 L537.49 293.30 L538.55 293.31 L539.61 293.32 L540.67 293.34 L541.72 293.35 L542.78 293.36 L543.83 293.37 L544.88 293.39 L545.94 293.40 L546.99 293.40 L548.04 293.40 L549.09 293.40 L550.14 293.40 L551.19 293.40 L978.3 293.40" stroke="#ff8000"/>
</g>
<rect x="107.95" y="1.5" width="886.5" height="547.9" fill="none" stroke="#6c6c6c" stroke-width="1"/>
<path d="M125.48 549.4 V543.8 M125.48 1.5 V7.8 M168.04 549.4 V544.7 M168.04 1.5 V6.9 M210.61 549.4 V544.7 M210.61 1.5 V6.9 M253.17 549.4 V544.7 M253.17 1.5 V6.9 M295.74 549.4 V543.8 M295.74 1.5 V7.8 M338.30 549.4 V544.7 M338.30 1.5 V6.9 M380.86 549.4 V544.7 M380.86 1.5 V6.9 M423.43 549.4 V544.7 M423.43 1.5 V6.9 M465.99 549.4 V543.8 M465.99 1.5 V7.8 M508.56 549.4 V544.7 M508.56 1.5 V6.9 M551.12 549.4 V544.7 M551.12 1.5 V6.9 M593.68 549.4 V544.7 M593.68 1.5 V6.9 M636.25 549.4 V543.8 M636.25 1.5 V7.8 M678.81 549.4 V544.7 M678.81 1.5 V6.9 M721.38 549.4 V544.7 M721.38 1.5 V6.9 M763.94 549.4 V544.7 M763.94 1.5 V6.9 M806.50 549.4 V543.8 M806.50 1.5 V7.8 M849.07 549.4 V544.7 M849.07 1.5 V6.9 M891.63 549.4 V544.7 M891.63 1.5 V6.9 M934.20 549.4 V544.7 M934.20 1.5 V6.9 M976.76 549.4 V543.8 M976.76 1.5 V7.8 M107.95 522.40 h4.8 M994.5 522.40 h-4.8 M107.95 493.77 h4.8 M994.5 493.77 h-4.8 M107.95 465.15 h5.9 M994.5 465.15 h-5.9 M107.95 436.52 h4.8 M994.5 436.52 h-4.8 M107.95 407.90 h4.8 M994.5 407.90 h-4.8 M107.95 379.27 h4.8 M994.5 379.27 h-4.8 M107.95 350.65 h5.9 M994.5 350.65 h-5.9 M107.95 322.02 h4.8 M994.5 322.02 h-4.8 M107.95 293.40 h4.8 M994.5 293.40 h-4.8 M107.95 264.77 h4.8 M994.5 264.77 h-4.8 M107.95 236.15 h5.9 M994.5 236.15 h-5.9 M107.95 207.52 h4.8 M994.5 207.52 h-4.8 M107.95 178.90 h4.8 M994.5 178.90 h-4.8 M107.95 150.27 h4.8 M994.5 150.27 h-4.8 M107.95 121.65 h5.9 M994.5 121.65 h-5.9 M107.95 93.02 h4.8 M994.5 93.02 h-4.8 M107.95 64.40 h4.8 M994.5 64.40 h-4.8 M107.95 35.77 h4.8 M994.5 35.77 h-4.8 M107.95 7.15 h5.9 M994.5 7.15 h-5.9" stroke="#6c6c6c" stroke-width="1" fill="none"/>
<g font-size="19" fill="#000" stroke="#000" stroke-width="0.2" style="filter:grayscale(1)"><g transform="translate(0,572.25) scale(1,1.08)"><text font-size="19" x="120.45" y="0">0</text></g><g transform="translate(0,572.25) scale(1,1.08)"><text font-size="19" x="290.70" y="0">2</text></g><g transform="translate(0,572.25) scale(1,1.08)"><text font-size="19" x="460.96" y="0">4</text></g><g transform="translate(0,572.25) scale(1,1.08)"><text font-size="19" x="631.22" y="0">6</text></g><g transform="translate(0,572.25) scale(1,1.08)"><text font-size="19" x="801.47" y="0">8</text></g><g transform="translate(0,572.25) scale(1,1.08)"><text font-size="19" x="977.01" y="0">0</text><path stroke="none" transform="translate(966.45,0) scale(0.009277,-0.009277)" d="M806 0H525V1059Q371 915 162 846V1101Q272 1137 401 1237.5Q530 1338 578 1472H806Z"/></g><g transform="translate(0,472.30) scale(1,1.08)"><text font-size="19" x="34.53 45.10 50.38 60.94 71.51 82.07 92.64" y="0">0.00002</text></g><g transform="translate(0,357.80) scale(1,1.08)"><text font-size="19" x="34.53 45.10 50.38 60.94 71.51 82.07 92.64" y="0">0.00004</text></g><g transform="translate(0,243.30) scale(1,1.08)"><text font-size="19" x="34.53 45.10 50.38 60.94 71.51 82.07 92.64" y="0">0.00006</text></g><g transform="translate(0,128.80) scale(1,1.08)"><text font-size="19" x="34.53 45.10 50.38 60.94 71.51 82.07 92.64" y="0">0.00008</text></g><g transform="translate(0,14.30) scale(1,1.08)"><text font-size="19" x="34.53 45.10 50.38 60.94 71.51 92.64" y="0">0.0000</text><path stroke="none" transform="translate(82.07,0) scale(0.009277,-0.009277)" d="M806 0H525V1059Q371 915 162 846V1101Q272 1137 401 1237.5Q530 1338 578 1472H806Z"/></g></g>
<line x1="649.6" x2="679.2" y1="67.7" y2="67.7" stroke="#0000ff" stroke-width="3"/><line x1="649.6" x2="679.2" y1="103.2" y2="103.2" stroke="#ff0000" stroke-width="3"/><line x1="649.6" x2="679.2" y1="138.7" y2="138.7" stroke="#00ff00" stroke-width="3"/><line x1="649.6" x2="679.2" y1="174.2" y2="174.2" stroke="#000000" stroke-width="3"/><line x1="649.6" x2="679.2" y1="209.7" y2="209.7" stroke="#ff8000" stroke-width="3"/><g fill="#000" style="filter:grayscale(1)"><g transform="translate(0,72.80) scale(1,1.02)"><text font-size="20" x="689.20 702.74 714.62 725.94 731.70 743.02 754.34 765.66 776.98 788.30 794.06 806.48 829.68 835.44 846.76 858.08 869.40" y="0">E=0.00292 F=.0899</text><path stroke="none" transform="translate(818.36,0) scale(0.009766,-0.009766)" d="M806 0H525V1059Q371 915 162 846V1101Q272 1137 401 1237.5Q530 1338 578 1472H806Z"/></g><g transform="translate(0,108.30) scale(1,1.02)"><text font-size="20" x="689.20 702.74 714.62 725.94 731.70 743.02 754.34 765.66 776.98 788.30 794.06 806.48 829.68 835.44 846.76 858.08 869.40" y="0">E=0.00275 F=.0849</text><path stroke="none" transform="translate(818.36,0) scale(0.009766,-0.009766)" d="M806 0H525V1059Q371 915 162 846V1101Q272 1137 401 1237.5Q530 1338 578 1472H806Z"/></g><g transform="translate(0,143.80) scale(1,1.02)"><text font-size="20" x="689.20 702.74 714.62 725.94 731.70 743.02 754.34 765.66 776.98 788.30 794.06 806.48 829.68 835.44 846.76 858.08 869.40" y="0">E=0.00267 F=.0826</text><path stroke="none" transform="translate(818.36,0) scale(0.009766,-0.009766)" d="M806 0H525V1059Q371 915 162 846V1101Q272 1137 401 1237.5Q530 1338 578 1472H806Z"/></g><g transform="translate(0,179.30) scale(1,1.02)"><text font-size="20" x="689.20 702.74 714.62 725.94 731.70 743.02 754.34 765.66 776.98 788.30 799.62 805.38 817.80 841.00 846.76 858.08 869.40 880.72 892.04" y="0">E=0.002523 F=.07668</text><path stroke="none" transform="translate(829.68,0) scale(0.009766,-0.009766)" d="M806 0H525V1059Q371 915 162 846V1101Q272 1137 401 1237.5Q530 1338 578 1472H806Z"/></g><g transform="translate(0,214.80) scale(1,1.02)"><text font-size="20" x="689.20 702.74 714.62 725.94 731.70 743.02 754.34 765.66 776.98 788.30 794.06 806.48 829.68 835.44 846.76 858.08 869.40 880.72" y="0">E=0.00236 F=.07003</text><path stroke="none" transform="translate(818.36,0) scale(0.009766,-0.009766)" d="M806 0H525V1059Q371 915 162 846V1101Q272 1137 401 1237.5Q530 1338 578 1472H806Z"/></g></g>
<g style="filter:grayscale(1)"><text x="551.6" y="602.6" font-size="19.5" text-anchor="middle">r</text></g>
<g transform="translate(17.2,287.0) rotate(-90)" fill="#000" style="filter:grayscale(1)"><text x="0" y="0" font-size="20" font-style="italic">V</text><text x="12.8" y="5" font-size="13.5" font-style="italic" stroke="#000" stroke-width="0.3">S</text><text x="14.6" y="-9.6" font-size="13.5" stroke="#000" stroke-width="0.3">2</text></g>
</svg>
</body></html>
